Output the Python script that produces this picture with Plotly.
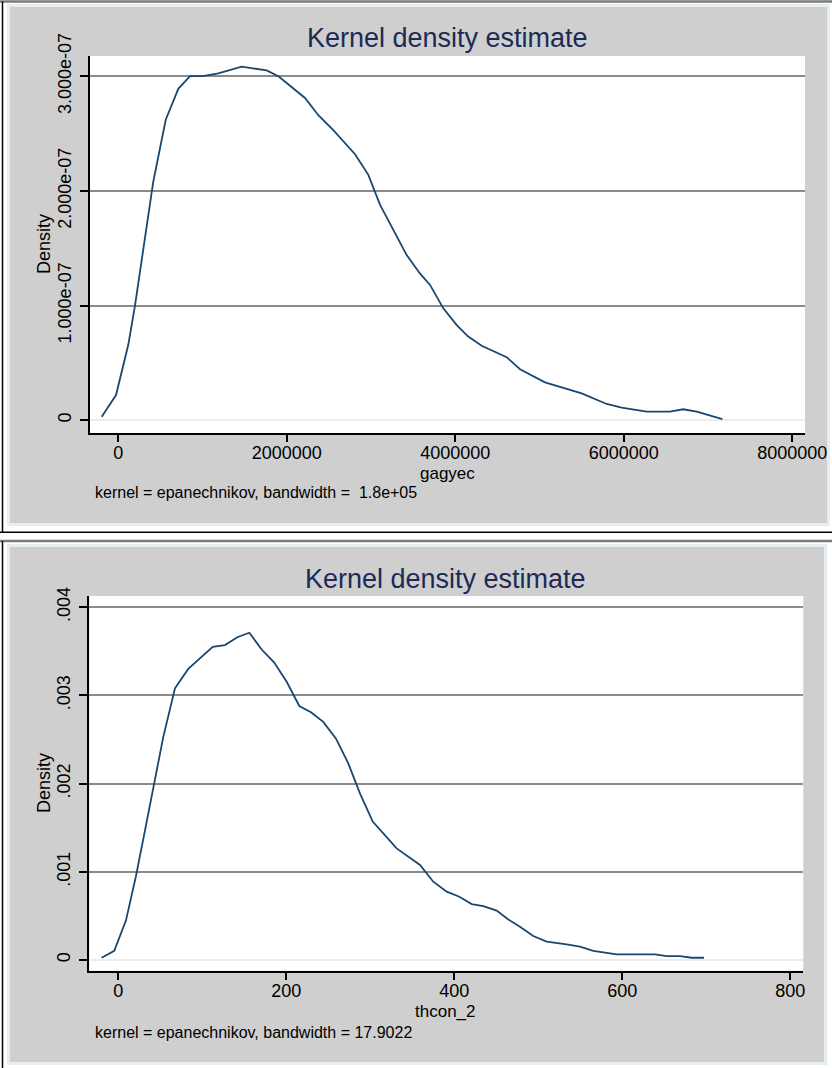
import plotly.graph_objects as go

# ---------------- data ----------------
gagyec_x = [-197000, -27000, 119000, 198000, 415000, 563000, 712000, 851000, 1000000,
            1187000, 1465000, 1761000, 1900000, 2216000, 2374000, 2552000, 2810000,
            2968000, 3106000, 3423000, 3580000, 3700000, 3858000, 4017000, 4154000,
            4313000, 4610000, 4768000, 5065000, 5500000, 5797000, 5975000, 6272000,
            6548000, 6706000, 6866000, 7170000]
gagyec_density = [0.031e-7, 0.22e-7, 0.66e-7, 1.00e-7, 2.08e-7, 2.62e-7, 2.89e-7, 3.00e-7,
                  3.00e-7, 3.025e-7, 3.083e-7, 3.05e-7, 3.00e-7, 2.81e-7, 2.66e-7, 2.53e-7,
                  2.32e-7, 2.14e-7, 1.88e-7, 1.44e-7, 1.28e-7, 1.18e-7, 0.976e-7, 0.83e-7,
                  0.73e-7, 0.65e-7, 0.55e-7, 0.445e-7, 0.33e-7, 0.235e-7, 0.142e-7, 0.11e-7,
                  0.075e-7, 0.075e-7, 0.096e-7, 0.075e-7, 0.011e-7]

thcon_x = [-19.8, -4.8, 9.2, 21.0, 31.8, 42.5, 53.6, 67.5, 83.3, 112.4, 127.0, 141.7, 156.0,
           170.7, 185.4, 200.5, 215.5, 229.4, 244.0, 259.2, 273.8, 287.7, 302.9, 331.4,
           359.2, 375.0, 391.0, 406.0, 420.7, 434.5, 450.5, 464.3, 478.2, 494.0, 510.0,
           533.8, 549.6, 565.5, 593.3, 639.0, 652.9, 668.7, 682.6, 697.3]
thcon_density = [0.026e-3, 0.105e-3, 0.45e-3, 0.95e-3, 1.47e-3, 1.99e-3, 2.53e-3, 3.08e-3,
                 3.30e-3, 3.55e-3, 3.57e-3, 3.66e-3, 3.71e-3, 3.52e-3, 3.375e-3, 3.155e-3,
                 2.88e-3, 2.81e-3, 2.70e-3, 2.51e-3, 2.23e-3, 1.89e-3, 1.57e-3, 1.266e-3,
                 1.077e-3, 0.888e-3, 0.775e-3, 0.718e-3, 0.635e-3, 0.612e-3, 0.56e-3,
                 0.46e-3, 0.378e-3, 0.272e-3, 0.208e-3, 0.178e-3, 0.151e-3, 0.105e-3,
                 0.064e-3, 0.064e-3, 0.045e-3, 0.045e-3, 0.026e-3, 0.026e-3]

top_xticks = [0, 2000000, 4000000, 6000000, 8000000]
top_xticklabels = ["0", "2000000", "4000000", "6000000", "8000000"]
top_yticks = [0, 1e-7, 2e-7, 3e-7]
top_yticklabels = ["0", "1.000e-07", "2.000e-07", "3.000e-07"]

bot_xticks = [0, 200, 400, 600, 800]
bot_xticklabels = ["0", "200", "400", "600", "800"]
bot_yticks = [0, 0.001, 0.002, 0.003, 0.004]
bot_yticklabels = ["0", ".001", ".002", ".003", ".004"]

title_text = "Kernel density estimate"
top_xtitle = "gagyec"
bot_xtitle = "thcon_2"
ytitle = "Density"
top_note = "kernel = epanechnikov, bandwidth =  1.8e+05"
bot_note = "kernel = epanechnikov, bandwidth = 17.9022"

# ---------------- layout helpers ----------------
W, H = 832, 1068
def px(x):
    return x / W
def py(y):
    return 1 - y / H

FONT = "Liberation Sans, Arial, sans-serif"
LINE = "#1a476f"
GRID = "#8a8a8a"
GREY = "#cfcfcf"
STRIP = "#e6eef2"
TITLE_C = "#1c2b55"

TOP_X = (90, 805)
TOP_Y = (56, 433)
BOT_X = (89.3, 803.3)
BOT_Y = (596, 970.7)

fig = go.Figure()
fig.add_trace(go.Scatter(x=gagyec_x, y=gagyec_density, mode="lines",
                         line=dict(color=LINE, width=1.8), xaxis="x", yaxis="y",
                         showlegend=False, hoverinfo="skip"))
fig.add_trace(go.Scatter(x=thcon_x, y=thcon_density, mode="lines",
                         line=dict(color=LINE, width=1.8), xaxis="x2", yaxis="y2",
                         showlegend=False, hoverinfo="skip"))

tickfont = dict(family=FONT, size=18, color="black")

def xaxis(domain, anchor, rng, vals, texts, lw):
    return dict(domain=domain, anchor=anchor, range=rng, tickmode="array",
                tickvals=vals, ticktext=texts, showgrid=False, zeroline=False,
                showline=True, linecolor="black", linewidth=lw, ticks="outside",
                ticklen=7, tickwidth=1.5, tickcolor="black", tickfont=tickfont,
                ticklabelstandoff=-4, automargin=False, fixedrange=True)

def yaxis(domain, anchor, rng, vals, texts, lw):
    return dict(domain=domain, anchor=anchor, range=rng, tickmode="array",
                tickvals=vals, ticktext=texts, showgrid=True, gridcolor=GRID,
                gridwidth=1.5, zeroline=True, zerolinecolor=STRIP, zerolinewidth=1.5,
                showline=True, linecolor="black", linewidth=lw, ticks="outside",
                ticklen=8, tickwidth=1.5, tickcolor="black", tickfont=tickfont,
                tickangle=-90, ticklabelstandoff=2, automargin=False, fixedrange=True)

fig.update_layout(
    width=W, height=H, margin=dict(l=0, r=0, t=0, b=0, pad=0, autoexpand=False),
    paper_bgcolor="white", plot_bgcolor="white", showlegend=False,
    xaxis=xaxis([px(TOP_X[0]), px(TOP_X[1])], "y", [-336000, 8151000], top_xticks, top_xticklabels, 1.5),
    yaxis=yaxis([py(TOP_Y[1]), py(TOP_Y[0])], "x", [-0.111e-7, 3.176e-7], top_yticks, top_yticklabels, 1.5),
    xaxis2=xaxis([px(BOT_X[0]), px(BOT_X[1])], "y2", [-34.5, 815.5], bot_xticks, bot_xticklabels, 2),
    yaxis2=yaxis([py(BOT_Y[1]), py(BOT_Y[0])], "x2", [-0.000121, 0.004127], bot_yticks, bot_yticklabels, 2),
)

shapes = []
# grey graph regions with light border
shapes.append(dict(type="rect", xref="paper", yref="paper", x0=px(8.5), x1=px(828.5),
                   y0=py(524.5), y1=py(5.5), fillcolor=GREY, line=dict(color=STRIP, width=3),
                   layer="below"))
shapes.append(dict(type="rect", xref="paper", yref="paper", x0=px(8.5), x1=px(825.5),
                   y0=py(1063.5), y1=py(545.5), fillcolor=GREY, line=dict(color=STRIP, width=3),
                   layer="below"))
# white plot regions
shapes.append(dict(type="rect", xref="paper", yref="paper", x0=px(TOP_X[0]), x1=px(TOP_X[1]),
                   y0=py(TOP_Y[1]), y1=py(TOP_Y[0]), fillcolor="white", line=dict(width=0),
                   layer="below"))
shapes.append(dict(type="rect", xref="paper", yref="paper", x0=px(BOT_X[0]), x1=px(BOT_X[1]),
                   y0=py(BOT_Y[1]), y1=py(BOT_Y[0]), fillcolor="white", line=dict(width=0),
                   layer="below"))
# outer frame lines of the two pasted pictures
shapes.append(dict(type="line", xref="paper", yref="paper", x0=0, x1=1, y0=py(1.5), y1=py(1.5),
                   line=dict(color="#7a7a7a", width=2.5), layer="below"))
shapes.append(dict(type="line", xref="paper", yref="paper", x0=px(2.5), x1=px(2.5),
                   y0=py(532), y1=py(1.5), line=dict(color="black", width=1.5), layer="below"))
shapes.append(dict(type="line", xref="paper", yref="paper", x0=0, x1=1, y0=py(532.3), y1=py(532.3),
                   line=dict(color="black", width=1.5), layer="below"))
shapes.append(dict(type="line", xref="paper", yref="paper", x0=0, x1=1, y0=py(541), y1=py(541),
                   line=dict(color="#7a7a7a", width=2.5), layer="below"))
shapes.append(dict(type="line", xref="paper", yref="paper", x0=px(2.5), x1=px(2.5),
                   y0=0, y1=py(541), line=dict(color="black", width=1.5), layer="below"))
fig.update_layout(shapes=shapes)

anns = []
def ann(text, x, y, size, color="black", angle=0, xanchor="center"):
    anns.append(dict(text=text, x=px(x), y=py(y), xref="paper", yref="paper",
                     showarrow=False, textangle=angle, xanchor=xanchor, yanchor="middle",
                     font=dict(family=FONT, size=size, color=color)))

ann(title_text, 447.5, 38, 27, TITLE_C)
ann(ytitle, 44, 244, 18, angle=-90)
ann(top_xtitle, 447, 473, 17)
ann(top_note, 93, 493, 16, xanchor="left")

ann(title_text, 445, 579, 27, TITLE_C)
ann(ytitle, 44, 783, 18, angle=-90)
ann(bot_xtitle, 445, 1011, 17)
ann(bot_note, 93, 1032, 16, xanchor="left")
fig.update_layout(annotations=anns)

fig.write_html("out.html", config={"displayModeBar": False},
               post_script="document.body.style.margin='0';document.body.style.overflow='hidden';")
